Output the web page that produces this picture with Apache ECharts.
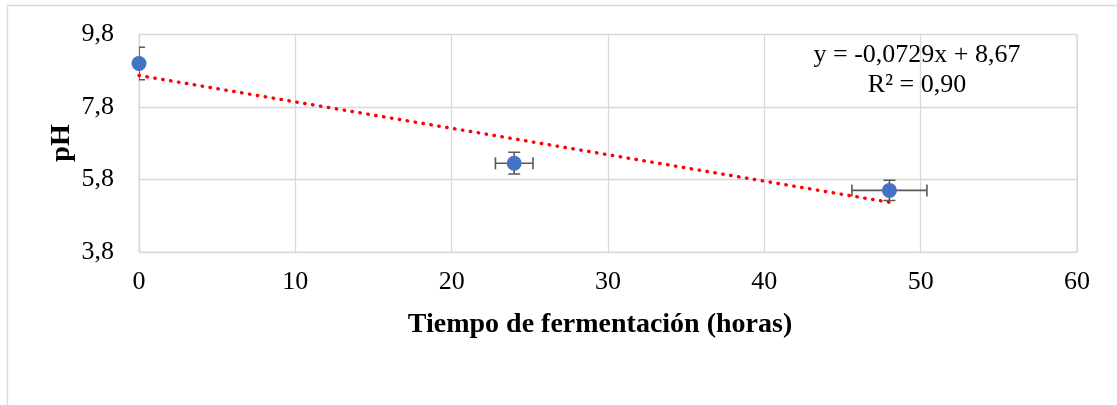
<!DOCTYPE html>
<html>
<head>
<meta charset="utf-8">
<script src="https://cdn.jsdelivr.net/npm/echarts@6/dist/echarts.min.js"></script>
<style>
  html, body { margin: 0; padding: 0; background: #ffffff; }
  #chart { width: 1117px; height: 405px; }
</style>
</head>
<body>
<div id="chart"></div>
<script>
// Fermentation time (hours) vs. pH, mean ± error
const hours = [0, 24, 48];
const hoursErr = [0, 1.2, 2.4];
const phMean = [9.00, 6.25, 5.50];
const phErr = [0.45, 0.30, 0.28];

// Linear trend shown in the annotation
const trendSlope = -0.0729;
const trendIntercept = 8.67;
const trendR2 = 0.90;
const trendRange = [0, 48];

const xTicks = [0, 10, 20, 30, 40, 50, 60];
const yTicks = [3.8, 5.8, 7.8, 9.8];

const fmt = (v, d) => v.toFixed(d).replace('.', ',');

const points = hours.map((h, i) => [h, phMean[i]]);
const bars = hours.map((h, i) => [h, phMean[i], phErr[i], hoursErr[i]]);
const trendLine = trendRange.map(x => [x, trendIntercept + trendSlope * x]);

const SERIF = '"Liberation Serif", "Times New Roman", serif';
const CAP = 6;

function renderErrorBar(params, api) {
  const x = api.value(0), y = api.value(1), ey = api.value(2), ex = api.value(3);
  const c = api.coord([x, y]);
  const top = api.coord([x, y + ey]);
  const bot = api.coord([x, y - ey]);
  const style = { stroke: '#595959', lineWidth: 1.6, fill: null };
  const children = [
    { type: 'line', shape: { x1: c[0], y1: top[1], x2: c[0], y2: bot[1] }, style },
    { type: 'line', shape: { x1: c[0] - CAP, y1: top[1], x2: c[0] + CAP, y2: top[1] }, style },
    { type: 'line', shape: { x1: c[0] - CAP, y1: bot[1], x2: c[0] + CAP, y2: bot[1] }, style }
  ];
  if (ex > 0) {
    const l = api.coord([x - ex, y]);
    const r = api.coord([x + ex, y]);
    children.push(
      { type: 'line', shape: { x1: l[0], y1: c[1], x2: r[0], y2: c[1] }, style },
      { type: 'line', shape: { x1: l[0], y1: c[1] - CAP, x2: l[0], y2: c[1] + CAP }, style },
      { type: 'line', shape: { x1: r[0], y1: c[1] - CAP, x2: r[0], y2: c[1] + CAP }, style }
    );
  }
  return { type: 'group', children };
}

const chart = echarts.init(document.getElementById('chart'), null, { renderer: 'canvas' });
chart.setOption({
  animation: false,
  backgroundColor: '#ffffff',
  grid: {
    left: 139, right: 40, top: 34.5, bottom: 153,
    show: true, borderColor: '#d9d9d9', borderWidth: 1, backgroundColor: 'transparent'
  },
  xAxis: {
    type: 'value',
    min: xTicks[0], max: xTicks[xTicks.length - 1], interval: xTicks[1] - xTicks[0],
    axisLine: { show: false },
    axisTick: { show: false },
    splitLine: { show: true, lineStyle: { color: '#d9d9d9', width: 1.3 } },
    axisLabel: { fontFamily: SERIF, fontSize: 26, color: '#000', margin: 17 }
  },
  yAxis: {
    type: 'value',
    min: yTicks[0], max: yTicks[yTicks.length - 1], interval: yTicks[1] - yTicks[0],
    axisLine: { show: false },
    axisTick: { show: false },
    splitLine: { show: true, lineStyle: { color: '#d9d9d9', width: 1.3 } },
    axisLabel: { fontFamily: SERIF, fontSize: 26, color: '#000', margin: 25,
      formatter: v => fmt(v, 1) }
  },
  graphic: [
    { type: 'rect', silent: true, z: -1,
      shape: { x: 7.5, y: 5.5, width: 1200, height: 500 },
      style: { fill: null, stroke: '#d9d9d9', lineWidth: 1.3 } },
    { type: 'text', silent: true, x: 600, y: 325,
      style: { text: 'Tiempo de fermentación (horas)', fontFamily: SERIF, fontSize: 28,
        fontWeight: 'bold', fill: '#000', align: 'center', verticalAlign: 'middle' } },
    { type: 'text', silent: true, x: 62, y: 143, rotation: Math.PI / 2,
      style: { text: 'pH', fontFamily: SERIF, fontSize: 28, fontWeight: 'bold',
        fill: '#000', align: 'center', verticalAlign: 'middle' } },
    { type: 'text', silent: true, x: 917, y: 70,
      style: {
        text: 'y = ' + fmt(trendSlope, 4) + 'x + ' + fmt(trendIntercept, 2) + '\nR² = ' + fmt(trendR2, 2),
        fontFamily: SERIF, fontSize: 26, lineHeight: 30, fill: '#000',
        align: 'center', verticalAlign: 'middle' } }
  ],
  series: [
    {
      type: 'line', data: trendLine, symbol: 'none', z: 2,
      lineStyle: { color: '#ff0000', width: 3.4, type: [0.5, 7.5], cap: 'round' }
    },
    {
      type: 'custom', data: bars, renderItem: renderErrorBar, clip: true, z: 3
    },
    {
      type: 'scatter', data: points, symbol: 'circle', symbolSize: 15, z: 4,
      itemStyle: { color: '#4472c4', opacity: 1 }
    }
  ]
});
</script>
</body>
</html>
